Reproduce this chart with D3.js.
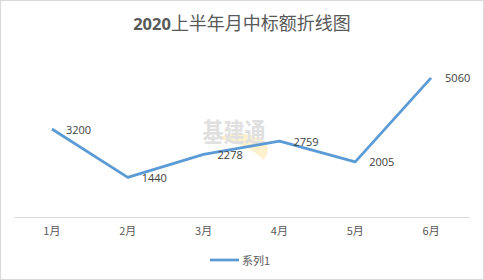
<!DOCTYPE html>
<html>
<head>
<meta charset="utf-8">
<script src="https://cdn.jsdelivr.net/npm/d3@7"></script>
<style>
  body { margin: 0; background: #fff; }
  svg { display: block; }
</style>
</head>
<body>
<div id="chart"></div>
<script>
const months = ["1月", "2月", "3月", "4月", "5月", "6月"];
const amounts = [3200, 1440, 2278, 2759, 2005, 5060];
const seriesName = "系列1";
const titleYear = "2020";
const titleRest = "上半年月中标额折线图";

const width = 484, height = 280;
const lineColor = "#5b9bd5";

const svg = d3.select("#chart")
    .append("svg")
    .attr("width", width)
    .attr("height", height);

// chart frame
svg.append("rect")
    .attr("x", 0.5).attr("y", 0.5)
    .attr("width", width - 1).attr("height", height - 1)
    .attr("fill", "#fff")
    .attr("stroke", "#d9d9d9");

// title
const title = svg.append("text")
    .attr("x", 242)
    .attr("y", 30)
    .attr("text-anchor", "middle")
    .attr("fill", "#595959")
    .attr("font-family", "'Noto Sans CJK SC', sans-serif");
title.append("tspan").text(titleYear)
    .attr("font-family", "'Open Sans', sans-serif")
    .attr("font-weight", "bold")
    .attr("font-size", 16.5);
title.append("tspan").text(titleRest)
    .attr("font-size", 18);

// scales
const xScale = d3.scaleBand()
    .domain(months)
    .range([14, 469]);

const yScale = d3.scaleLinear()
    .domain([0, 6000])
    .range([217, 52]);

const cx = d => xScale(d) + xScale.bandwidth() / 2;

// watermark (faint logo behind the line)
const wm = svg.append("g");
wm.append("path")
    .attr("d", "M216,138 Q242,128 264,141 Q272,150 263,160 Q252,146 216,138 Z")
    .attr("fill", "#fdf0cc");
wm.append("text")
    .attr("transform", "translate(234,142) scale(1,1.25)")
    .attr("text-anchor", "middle")
    .attr("font-family", "'Noto Sans CJK SC', sans-serif")
    .attr("font-weight", "bold")
    .attr("font-size", 21)
    .attr("fill", "#e0e0e0")
    .text("基建通");

// x axis
const xAxis = d3.axisBottom(xScale).tickSize(0).tickPadding(10);
const gx = svg.append("g")
    .attr("transform", `translate(0,${yScale(0)})`)
    .call(xAxis);
gx.select(".domain").attr("stroke", "#d9d9d9");
gx.selectAll("text")
    .attr("font-family", "'Noto Sans CJK SC', sans-serif")
    .attr("font-size", 11)
    .attr("fill", "#595959");

// line
const lineGenerator = d3.line()
    .x((d, i) => cx(months[i]))
    .y(d => yScale(d));

svg.append("path")
    .attr("d", lineGenerator(amounts))
    .attr("fill", "none")
    .attr("stroke", lineColor)
    .attr("stroke-width", 2.75)
    .attr("stroke-linejoin", "round");

// data labels
svg.selectAll(".lbl")
    .data(amounts)
    .join("text")
    .attr("class", "lbl")
    .attr("x", (d, i) => cx(months[i]) + 14)
    .attr("y", d => yScale(d))
    .attr("dominant-baseline", "central")
    .attr("font-family", "'Open Sans', sans-serif")
    .attr("font-size", 11)
    .attr("fill", "#404040")
    .text(d => d);

// legend
const legend = svg.append("g").attr("transform", "translate(210,260)");
legend.append("line")
    .attr("x1", 0).attr("x2", 29)
    .attr("stroke", lineColor)
    .attr("stroke-width", 2.75);
legend.append("text")
    .attr("x", 32)
    .attr("dominant-baseline", "central")
    .attr("font-family", "'Noto Sans CJK SC', sans-serif")
    .attr("font-size", 11)
    .attr("fill", "#595959")
    .text(seriesName);
</script>
</body>
</html>
